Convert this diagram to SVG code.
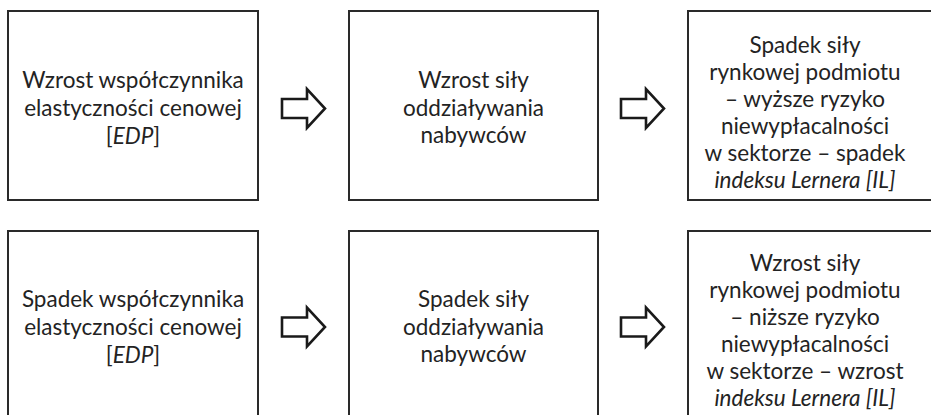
<svg xmlns="http://www.w3.org/2000/svg" xmlns:xlink="http://www.w3.org/1999/xlink" width="931" height="415" viewBox="0 0 931 415">
  <style>
    .box { fill: #ffffff; stroke: #2a2a2a; stroke-width: 2; }
    .arrow { fill: #ffffff; stroke: #1a1a1a; stroke-width: 2.6; stroke-linejoin: miter; }
    text { font-family: "Lato", "Liberation Sans", sans-serif; font-size: 22.5px; fill: #232323; text-anchor: middle; }
    .it { font-style: italic; }
  </style>
  <defs>
    <!-- hollow block arrow pointing right, origin at body's left-middle -->
    <path id="blockArrow" class="arrow" d="M0,-9.5 L25,-9.5 L25,-19.5 L43,0 L25,19.5 L25,9.5 L0,9.5 Z"/>
  </defs>
  <rect width="931" height="415" fill="#ffffff"/>

  <g id="connectors">
    <use xlink:href="#blockArrow" x="282" y="108.5"/>
    <use xlink:href="#blockArrow" x="621" y="108.5"/>
    <use xlink:href="#blockArrow" x="282" y="327"/>
    <use xlink:href="#blockArrow" x="621" y="327"/>
  </g>

  <g id="node-edp-up">
    <rect class="box" x="8" y="11" width="250" height="189"/>
    <text x="133" y="88">Wzrost współczynnika</text>
    <text x="133" y="116">elastyczności cenowej</text>
    <text x="133" y="144">[<tspan class="it">EDP</tspan>]</text>
  </g>

  <g id="node-buyers-up">
    <rect class="box" x="349" y="11" width="249" height="189"/>
    <text x="473.5" y="88">Wzrost siły</text>
    <text x="473.5" y="116">oddziaływania</text>
    <text x="473.5" y="143">nabywców</text>
  </g>

  <g id="node-market-down">
    <rect class="box" x="688" y="11" width="260" height="189"/>
    <text x="805" y="53">Spadek siły</text>
    <text x="805" y="80">rynkowej podmiotu</text>
    <text x="805" y="107">– wyższe ryzyko</text>
    <text x="805" y="134">niewypłacalności</text>
    <text x="805" y="161">w sektorze – spadek</text>
    <text x="805" y="188" class="it">indeksu Lernera [IL]</text>
  </g>

  <g id="node-edp-down">
    <rect class="box" x="8" y="231" width="250" height="200"/>
    <text x="133" y="307">Spadek współczynnika</text>
    <text x="133" y="335">elastyczności cenowej</text>
    <text x="133" y="363">[<tspan class="it">EDP</tspan>]</text>
  </g>

  <g id="node-buyers-down">
    <rect class="box" x="349" y="231" width="249" height="200"/>
    <text x="473.5" y="307">Spadek siły</text>
    <text x="473.5" y="335">oddziaływania</text>
    <text x="473.5" y="362">nabywców</text>
  </g>

  <g id="node-market-up">
    <rect class="box" x="688" y="231" width="260" height="200"/>
    <text x="805" y="271">Wzrost siły</text>
    <text x="805" y="298">rynkowej podmiotu</text>
    <text x="805" y="325">– niższe ryzyko</text>
    <text x="805" y="352">niewypłacalności</text>
    <text x="805" y="379">w sektorze – wzrost</text>
    <text x="805" y="406" class="it">indeksu Lernera [IL]</text>
  </g>
</svg>
